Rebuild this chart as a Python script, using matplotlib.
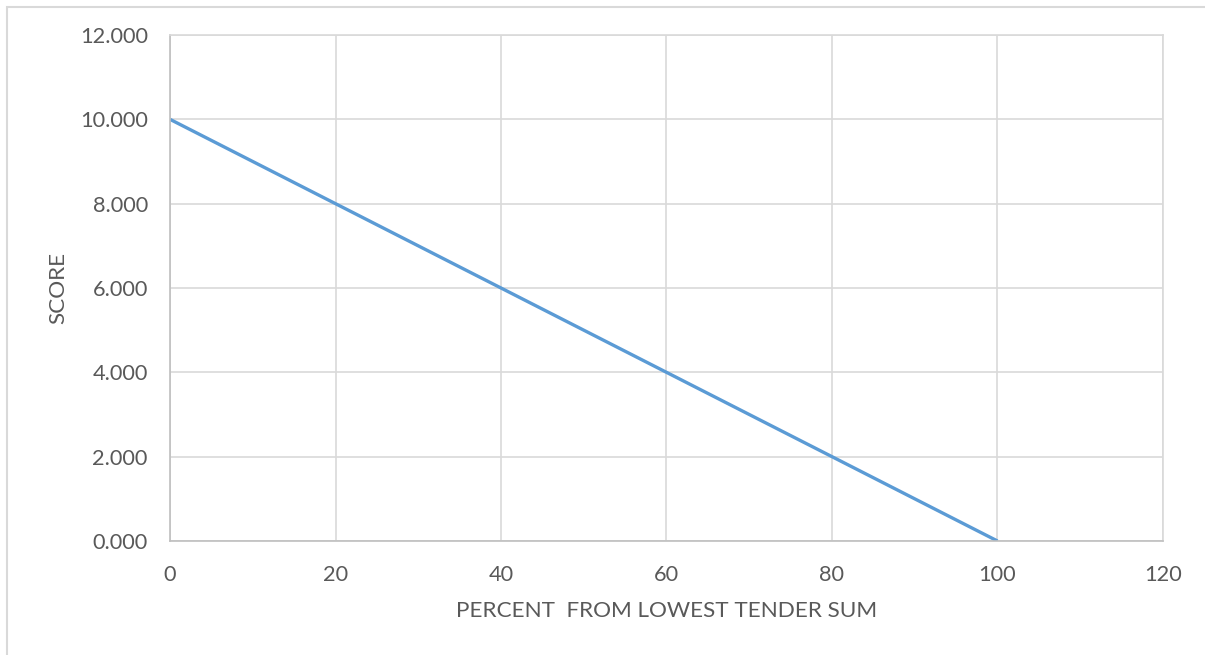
import matplotlib.pyplot as plt
from matplotlib.patches import Rectangle
from matplotlib.ticker import FormatStrFormatter

# data
percent = [0, 20, 40, 60, 80, 100]
score = [10.0, 8.0, 6.0, 4.0, 2.0, 0.0]
x_ticks = [0, 20, 40, 60, 80, 100, 120]
y_ticks = [0, 2, 4, 6, 8, 10, 12]

plt.rcParams['font.family'] = ['Lato', 'DejaVu Sans']
txt = '#595959'
grid = '#D9D9D9'

W, H = 1205, 655
fig = plt.figure(figsize=(W / 100, H / 100), dpi=100)

# outer chart border (only top and left visible in the crop)
fig.add_artist(Rectangle((7 / W, -0.1), 1.2, 1 - 7 / H + 0.1, transform=fig.transFigure,
                         fill=False, edgecolor=grid, linewidth=1.5))

left, right, top, bottom = 170, 1163, 35, 541
ax = fig.add_axes([left / W, 1 - bottom / H, (right - left) / W, (bottom - top) / H])

ax.plot(percent, score, color='#5B9BD5', linewidth=2.4, solid_capstyle='butt')

ax.set_xlim(0, 120)
ax.set_ylim(0, 12)
ax.set_xticks(x_ticks)
ax.set_yticks(y_ticks)
ax.yaxis.set_major_formatter(FormatStrFormatter('%.3f'))
ax.grid(True, color=grid, linewidth=1.2)
ax.set_axisbelow(True)

for s in ['top', 'right']:
    ax.spines[s].set_color(grid)
    ax.spines[s].set_linewidth(1.2)
for s in ['left', 'bottom']:
    ax.spines[s].set_color('#BFBFBF')
    ax.spines[s].set_linewidth(1.2)

ax.tick_params(length=0, labelsize=15.7, colors=txt)
ax.tick_params(axis='y', pad=16)
ax.tick_params(axis='x', pad=17)

ax.set_xlabel('PERCENT  FROM LOWEST TENDER SUM', fontsize=16.2, color=txt, labelpad=12)
ax.set_ylabel('SCORE', fontsize=16.2, color=txt, labelpad=8)

fig.savefig('out.png', dpi=100)
